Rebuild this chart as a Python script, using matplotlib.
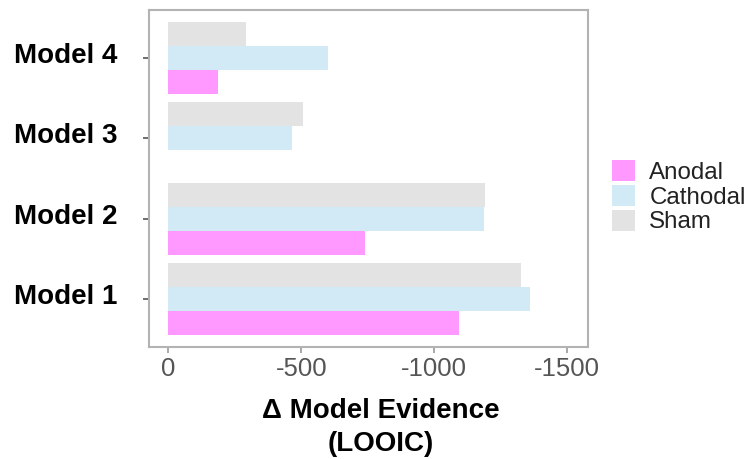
import matplotlib
matplotlib.use("Agg")
import matplotlib.pyplot as plt
import numpy as np
from matplotlib.patches import Patch
from matplotlib.transforms import ScaledTranslation

plt.rcParams['font.family'] = ['Liberation Sans', 'DejaVu Sans']

models = ["Model 1", "Model 2", "Model 3", "Model 4"]
groups = ["Anodal", "Cathodal", "Sham"]
anodal = [-1094, -740, 0, -189]
cathodal = [-1360, -1187, -466, -600]
sham = [-1326, -1192, -508, -292]
colors = {"Anodal": "#FF99FF", "Cathodal": "#D1EAF5", "Sham": "#E3E3E3"}
xticks = [0, -500, -1000, -1500]

fig = plt.figure(figsize=(7.54, 4.59), dpi=100)
ax = fig.add_axes([149.3/754, 1-347/459, (587.7-149.3)/754, (347-10)/459])

y = np.arange(1, len(models)+1)
h = 0.3
series = {"Anodal": anodal, "Cathodal": cathodal, "Sham": sham}
offsets = {"Anodal": -h, "Cathodal": 0, "Sham": h}
for g in groups:
    ax.barh(y + offsets[g], series[g], height=h, color=colors[g], edgecolor='none')

ax.set_xlim(71, -1577)
ax.set_ylim(0.4, 4.6)
ax.set_yticks(y)
ax.set_yticklabels(models, fontsize=20, fontweight='bold', color='black')
ax.set_xticks(xticks)
ax.set_xticklabels([str(t) for t in xticks], fontsize=18.5, color='#555555')
ax.tick_params(axis='y', length=4, width=1.2, color='#555555', pad=19)
ax.tick_params(axis='x', length=4, width=1.2, color='#999999', pad=3)
for s in ax.spines.values():
    s.set_color('#B3B3B3')
    s.set_linewidth(1.5)

for lab in ax.get_yticklabels():
    lab.set_transform(lab.get_transform() + ScaledTranslation(0, 5/100, fig.dpi_scale_trans))

fig.text(381/754, 1-418/459, "\u0394 Model Evidence", ha='center', va='baseline',
         fontsize=20, fontweight='bold', color='black')
fig.text(381/754, 1-451/459, "(LOOIC)", ha='center', va='baseline',
         fontsize=20, fontweight='bold', color='black')

handles = [Patch(facecolor=colors[g], edgecolor='none', label=g) for g in groups]
leg = fig.legend(handles=handles, loc='upper left', bbox_to_anchor=(607/754, 1-155/459),
                 frameon=False, fontsize=17.4, handlelength=0.95, handleheight=0.95,
                 labelspacing=0.05, handletextpad=0.6, borderaxespad=0, borderpad=0.2)
for t in leg.get_texts():
    t.set_color('#222222')

fig.savefig("out.png", dpi=100)
